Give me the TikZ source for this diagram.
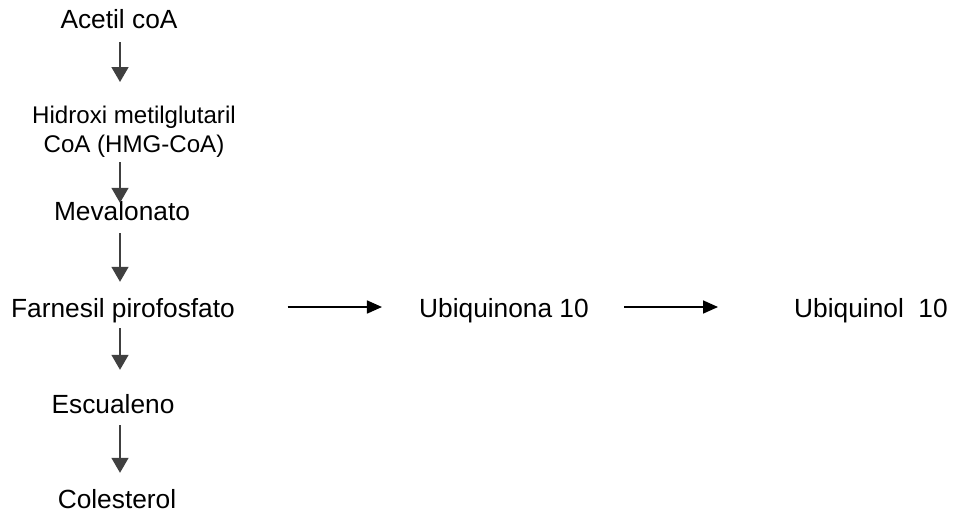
\documentclass[tikz,border=0pt]{standalone}
\usepackage{fontspec}
\setmainfont{Liberation Sans}
\usetikzlibrary{arrows.meta}
\definecolor{arrowgray}{HTML}{404040}
\begin{document}
\begin{tikzpicture}[x=1pt,y=-1pt,
  lbl/.style={inner sep=0pt,font=\fontsize{26.3}{31}\selectfont,text height=19pt,text depth=5.5pt,anchor=base},
  small/.style={inner sep=0pt,font=\fontsize{24.1}{29}\selectfont,align=center,anchor=north},
  varrow/.style={draw=arrowgray,fill=arrowgray,line width=1.6pt,-{Triangle[length=15pt,width=17pt]}},
  harrow/.style={draw=black,line width=1.6pt,-{Triangle[length=15pt,width=13pt]}}]
\useasboundingbox (0,0) rectangle (954,512);
\coordinate (axis) at (120,0);
\node[lbl] (acetil) at (119,28) {Acetil coA};
\node[small] (hmg) at (134,105.5) {Hidroxi metilglutaril\\CoA (HMG-CoA)};
\node[lbl] (meval) at (122,220) {Mevalonato};
\node[lbl] (farn) at (123,317) {Farnesil pirofosfato};
\node[lbl] (escu) at (113,413) {Escualeno};
\node[lbl] (coles) at (117,508) {Colesterol};
\node[lbl] (ubq) at (504,317) {Ubiquinona 10};
\node[lbl] (ubl) at (871,317) {Ubiquinol\ \ 10};
\draw[varrow,shorten <=8.5pt,shorten >=23.5pt] (acetil.south -| axis) -- (hmg.north -| axis);
\draw[varrow,shorten <=5pt,shorten >=-2pt] (hmg.south -| axis) -- (meval.north -| axis);
\draw[varrow,shorten <=7.5pt,shorten >=16pt] (meval.south -| axis) -- (farn.north -| axis);
\draw[varrow,shorten <=5.5pt,shorten >=24pt] (farn.south -| axis) -- (escu.north -| axis);
\draw[varrow,shorten <=6.5pt,shorten >=16pt] (escu.south -| axis) -- (coles.north -| axis);
\draw[harrow,shorten <=52.5pt,shorten >=37pt] ([yshift=10pt]farn.base east) -- ([yshift=10pt]ubq.base west);
\draw[harrow,shorten <=35pt,shorten >=76pt] ([yshift=10pt]ubq.base east) -- ([yshift=10pt]ubl.base west);
\end{tikzpicture}
\end{document}
